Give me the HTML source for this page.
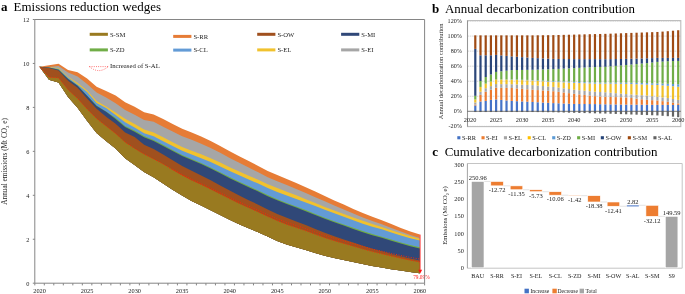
<!DOCTYPE html>
<html><head><meta charset="utf-8"><style>
html,body{margin:0;padding:0;background:#fff;width:685px;height:294px;overflow:hidden;font-family:"Liberation Serif",serif;}
svg{display:block;will-change:transform;}
</style></head><body>
<svg width="685" height="294" viewBox="0 0 685 294">
<rect width="685" height="294" fill="#fff"/>
<g font-family="Liberation Serif" fill="#000">
<text x="1" y="10.6" font-size="13" font-weight="bold">a</text>
<text x="13.6" y="10.6" font-size="13" textLength="147.4" lengthAdjust="spacingAndGlyphs">Emissions reduction wedges</text>
<text x="432" y="13.4" font-size="13" font-weight="bold">b</text>
<text x="445" y="13.4" font-size="13" textLength="190" lengthAdjust="spacingAndGlyphs">Annual decarbonization contribution</text>
<text x="432.3" y="155.9" font-size="13" font-weight="bold">c</text>
<text x="444.7" y="155.9" font-size="13" textLength="212.8" lengthAdjust="spacingAndGlyphs">Cumulative decarbonization contribution</text>
</g>
<path d="M39.55,66.7 L49.06,65.3 L58.57,63.8 L68.08,70 L77.58,72.2 L87.09,78.4 L96.6,86.8 L106.1,90.9 L115.61,95.4 L125.12,102.2 L134.63,106.8 L144.13,112.3 L153.64,114.5 L163.15,119.1 L172.66,123.9 L182.16,128.8 L191.67,132.4 L201.18,136.4 L210.69,140.9 L220.19,145.9 L229.7,151.2 L239.21,156.2 L248.71,161.1 L258.22,165.9 L267.73,171 L277.24,175 L286.74,179 L296.25,183 L305.76,187.3 L315.27,191.6 L324.77,196 L334.28,200.4 L343.79,204.6 L353.3,208.9 L362.8,213 L372.31,216.8 L381.82,220.2 L391.32,224.1 L400.83,227.9 L410.34,231.5 L419.85,234.6 L419.85,273.3 L410.34,272 L400.83,270.6 L391.32,269.2 L381.82,267.6 L372.31,266 L362.8,264 L353.3,261.9 L343.79,260.1 L334.28,258.1 L324.77,255.8 L315.27,253 L305.76,249.9 L296.25,247.3 L286.74,244.6 L277.24,240.9 L267.73,236.6 L258.22,232.2 L248.71,228.3 L239.21,224.2 L229.7,219.8 L220.19,215.1 L210.69,210.3 L201.18,205.6 L191.67,200.9 L182.16,195.5 L172.66,189.7 L163.15,183.5 L153.64,177.3 L144.13,171.9 L134.63,164.9 L125.12,158.3 L115.61,148.6 L106.1,140.9 L96.6,132.9 L87.09,120.8 L77.58,107.7 L68.08,97 L58.57,82.6 L49.06,79.7 L39.55,66.7Z" fill="#E67C36"/>
<path d="M39.55,66.7 L49.06,66.9 L58.57,65.91 L68.08,72.51 L77.58,76.5 L87.09,84.12 L96.6,92.56 L106.1,97.5 L115.61,103.17 L125.12,110.05 L134.63,114.82 L144.13,119.93 L153.64,121.78 L163.15,126.83 L172.66,131.55 L182.16,136.31 L191.67,139.87 L201.18,143.75 L210.69,148.08 L220.19,152.87 L229.7,157.92 L239.21,162.83 L248.71,167.62 L258.22,172.3 L267.73,177.3 L277.24,181.23 L286.74,185.1 L296.25,188.92 L305.76,193 L315.27,197.13 L324.77,201.32 L334.28,205.51 L343.79,209.48 L353.3,213.54 L362.8,217.44 L372.31,221.06 L381.82,224.28 L391.32,227.96 L400.83,231.53 L410.34,234.94 L419.85,237.89 L419.85,273.3 L410.34,272 L400.83,270.6 L391.32,269.2 L381.82,267.6 L372.31,266 L362.8,264 L353.3,261.9 L343.79,260.1 L334.28,258.1 L324.77,255.8 L315.27,253 L305.76,249.9 L296.25,247.3 L286.74,244.6 L277.24,240.9 L267.73,236.6 L258.22,232.2 L248.71,228.3 L239.21,224.2 L229.7,219.8 L220.19,215.1 L210.69,210.3 L201.18,205.6 L191.67,200.9 L182.16,195.5 L172.66,189.7 L163.15,183.5 L153.64,177.3 L144.13,171.9 L134.63,164.9 L125.12,158.3 L115.61,148.6 L106.1,140.9 L96.6,132.9 L87.09,120.8 L77.58,107.7 L68.08,97 L58.57,82.6 L49.06,79.7 L39.55,66.7Z" fill="#A6A6A6"/>
<path d="M39.55,66.7 L49.06,67.2 L58.57,67.9 L68.08,76.8 L77.58,82.99 L87.09,90.48 L96.6,101.09 L106.1,106.6 L115.61,112.42 L125.12,118.81 L134.63,123.94 L144.13,129.58 L153.64,132.52 L163.15,137.26 L172.66,142.13 L182.16,146.94 L191.67,150.69 L201.18,154.29 L210.69,158.25 L220.19,162.61 L229.7,167.18 L239.21,171.52 L248.71,175.72 L258.22,179.81 L267.73,184.25 L277.24,188.02 L286.74,191.66 L296.25,195.28 L305.76,199.13 L315.27,203.08 L324.77,207.06 L334.28,210.6 L343.79,213.95 L353.3,217.39 L362.8,220.75 L372.31,224.08 L381.82,227.03 L391.32,230.19 L400.83,233.28 L410.34,236.18 L419.85,238.66 L419.85,273.3 L410.34,272 L400.83,270.6 L391.32,269.2 L381.82,267.6 L372.31,266 L362.8,264 L353.3,261.9 L343.79,260.1 L334.28,258.1 L324.77,255.8 L315.27,253 L305.76,249.9 L296.25,247.3 L286.74,244.6 L277.24,240.9 L267.73,236.6 L258.22,232.2 L248.71,228.3 L239.21,224.2 L229.7,219.8 L220.19,215.1 L210.69,210.3 L201.18,205.6 L191.67,200.9 L182.16,195.5 L172.66,189.7 L163.15,183.5 L153.64,177.3 L144.13,171.9 L134.63,164.9 L125.12,158.3 L115.61,148.6 L106.1,140.9 L96.6,132.9 L87.09,120.8 L77.58,107.7 L68.08,97 L58.57,82.6 L49.06,79.7 L39.55,66.7Z" fill="#F1C22E"/>
<path d="M39.55,66.7 L49.06,67.4 L58.57,68.8 L68.08,77.51 L77.58,84.41 L87.09,91.97 L96.6,102.89 L106.1,108 L115.61,114.92 L125.12,122.34 L134.63,127.43 L144.13,133.16 L153.64,136.35 L163.15,141.19 L172.66,146.05 L182.16,150.83 L191.67,154.59 L201.18,158.18 L210.69,162.1 L220.19,166.4 L229.7,170.89 L239.21,175.26 L248.71,179.48 L258.22,183.59 L267.73,188.06 L277.24,191.9 L286.74,195.6 L296.25,198.88 L305.76,202.39 L315.27,206.03 L324.77,209.69 L334.28,213.32 L343.79,216.75 L353.3,220.24 L362.8,223.66 L372.31,226.69 L381.82,229.35 L391.32,232.42 L400.83,235.42 L410.34,238.14 L419.85,240.48 L419.85,273.3 L410.34,272 L400.83,270.6 L391.32,269.2 L381.82,267.6 L372.31,266 L362.8,264 L353.3,261.9 L343.79,260.1 L334.28,258.1 L324.77,255.8 L315.27,253 L305.76,249.9 L296.25,247.3 L286.74,244.6 L277.24,240.9 L267.73,236.6 L258.22,232.2 L248.71,228.3 L239.21,224.2 L229.7,219.8 L220.19,215.1 L210.69,210.3 L201.18,205.6 L191.67,200.9 L182.16,195.5 L172.66,189.7 L163.15,183.5 L153.64,177.3 L144.13,171.9 L134.63,164.9 L125.12,158.3 L115.61,148.6 L106.1,140.9 L96.6,132.9 L87.09,120.8 L77.58,107.7 L68.08,97 L58.57,82.6 L49.06,79.7 L39.55,66.7Z" fill="#639BD6"/>
<path d="M39.55,66.7 L49.06,67.53 L58.57,69.53 L68.08,78.78 L77.58,85.44 L87.09,95.57 L96.6,105.56 L106.1,111.4 L115.61,117.78 L125.12,126 L134.63,130.59 L144.13,136.07 L153.64,139.89 L163.15,144.86 L172.66,149.93 L182.16,154.9 L191.67,158.91 L201.18,163.02 L210.69,167.43 L220.19,172.19 L229.7,177.1 L239.21,181.69 L248.71,186.1 L258.22,190.39 L267.73,195.05 L277.24,199.13 L286.74,202.98 L296.25,206.47 L305.76,210.12 L315.27,213.94 L324.77,217.73 L334.28,221.24 L343.79,224.52 L353.3,227.79 L362.8,231.06 L372.31,234.09 L381.82,236.71 L391.32,239.62 L400.83,242.38 L410.34,244.99 L419.85,247.25 L419.85,273.3 L410.34,272 L400.83,270.6 L391.32,269.2 L381.82,267.6 L372.31,266 L362.8,264 L353.3,261.9 L343.79,260.1 L334.28,258.1 L324.77,255.8 L315.27,253 L305.76,249.9 L296.25,247.3 L286.74,244.6 L277.24,240.9 L267.73,236.6 L258.22,232.2 L248.71,228.3 L239.21,224.2 L229.7,219.8 L220.19,215.1 L210.69,210.3 L201.18,205.6 L191.67,200.9 L182.16,195.5 L172.66,189.7 L163.15,183.5 L153.64,177.3 L144.13,171.9 L134.63,164.9 L125.12,158.3 L115.61,148.6 L106.1,140.9 L96.6,132.9 L87.09,120.8 L77.58,107.7 L68.08,97 L58.57,82.6 L49.06,79.7 L39.55,66.7Z" fill="#70AD47"/>
<path d="M39.55,66.7 L49.06,67.6 L58.57,69.7 L68.08,78.99 L77.58,85.69 L87.09,95.87 L96.6,105.89 L106.1,111.7 L115.61,118.88 L125.12,127.1 L134.63,131.69 L144.13,137.17 L153.64,140.99 L163.15,145.96 L172.66,151.03 L182.16,156 L191.67,160.01 L201.18,164.12 L210.69,168.53 L220.19,173.29 L229.7,178.2 L239.21,182.79 L248.71,187.2 L258.22,191.49 L267.73,196.15 L277.24,200.23 L286.74,204.08 L296.25,207.57 L305.76,211.22 L315.27,215.04 L324.77,218.83 L334.28,222.34 L343.79,225.62 L353.3,228.89 L362.8,232.16 L372.31,235.19 L381.82,237.81 L391.32,240.72 L400.83,243.53 L410.34,246.2 L419.85,248.53 L419.85,273.3 L410.34,272 L400.83,270.6 L391.32,269.2 L381.82,267.6 L372.31,266 L362.8,264 L353.3,261.9 L343.79,260.1 L334.28,258.1 L324.77,255.8 L315.27,253 L305.76,249.9 L296.25,247.3 L286.74,244.6 L277.24,240.9 L267.73,236.6 L258.22,232.2 L248.71,228.3 L239.21,224.2 L229.7,219.8 L220.19,215.1 L210.69,210.3 L201.18,205.6 L191.67,200.9 L182.16,195.5 L172.66,189.7 L163.15,183.5 L153.64,177.3 L144.13,171.9 L134.63,164.9 L125.12,158.3 L115.61,148.6 L106.1,140.9 L96.6,132.9 L87.09,120.8 L77.58,107.7 L68.08,97 L58.57,82.6 L49.06,79.7 L39.55,66.7Z" fill="#304878"/>
<path d="M39.55,66.7 L49.06,67.91 L58.57,70.49 L68.08,80.8 L77.58,87.78 L87.09,98.58 L96.6,108.79 L106.1,116.8 L115.61,123.76 L125.12,132.61 L134.63,137.07 L144.13,144.66 L153.64,148.91 L163.15,154.39 L172.66,160.24 L182.16,165.93 L191.67,170.83 L201.18,175.45 L210.69,180.28 L220.19,185.4 L229.7,190.58 L239.21,195.47 L248.71,200.14 L258.22,204.65 L267.73,209.57 L277.24,213.88 L286.74,217.84 L296.25,221.45 L305.76,225.11 L315.27,229.05 L324.77,232.84 L334.28,236.3 L343.79,239.48 L353.3,242.54 L362.8,245.69 L372.31,248.73 L381.82,251.34 L391.32,253.93 L400.83,256.34 L410.34,258.55 L419.85,260.53 L419.85,273.3 L410.34,272 L400.83,270.6 L391.32,269.2 L381.82,267.6 L372.31,266 L362.8,264 L353.3,261.9 L343.79,260.1 L334.28,258.1 L324.77,255.8 L315.27,253 L305.76,249.9 L296.25,247.3 L286.74,244.6 L277.24,240.9 L267.73,236.6 L258.22,232.2 L248.71,228.3 L239.21,224.2 L229.7,219.8 L220.19,215.1 L210.69,210.3 L201.18,205.6 L191.67,200.9 L182.16,195.5 L172.66,189.7 L163.15,183.5 L153.64,177.3 L144.13,171.9 L134.63,164.9 L125.12,158.3 L115.61,148.6 L106.1,140.9 L96.6,132.9 L87.09,120.8 L77.58,107.7 L68.08,97 L58.57,82.6 L49.06,79.7 L39.55,66.7Z" fill="#A0501E"/>
<path d="M39.55,66.7 L49.06,77.3 L58.57,77.9 L68.08,89.79 L77.58,98.61 L87.09,109.01 L96.6,118.61 L106.1,126.1 L115.61,133.44 L125.12,142.2 L134.63,148.4 L144.13,154.14 L153.64,159.03 L163.15,164.12 L172.66,169.85 L182.16,175.33 L191.67,180.14 L201.18,184.58 L210.69,189.17 L220.19,193.98 L229.7,198.81 L239.21,203.39 L248.71,207.74 L258.22,211.91 L267.73,216.53 L277.24,220.7 L286.74,224.46 L296.25,227.62 L305.76,230.81 L315.27,234.33 L324.77,237.68 L334.28,240.73 L343.79,243.51 L353.3,246.16 L362.8,248.95 L372.31,251.61 L381.82,253.85 L391.32,256.12 L400.83,258.22 L410.34,260.25 L419.85,262.08 L419.85,273.3 L410.34,272 L400.83,270.6 L391.32,269.2 L381.82,267.6 L372.31,266 L362.8,264 L353.3,261.9 L343.79,260.1 L334.28,258.1 L324.77,255.8 L315.27,253 L305.76,249.9 L296.25,247.3 L286.74,244.6 L277.24,240.9 L267.73,236.6 L258.22,232.2 L248.71,228.3 L239.21,224.2 L229.7,219.8 L220.19,215.1 L210.69,210.3 L201.18,205.6 L191.67,200.9 L182.16,195.5 L172.66,189.7 L163.15,183.5 L153.64,177.3 L144.13,171.9 L134.63,164.9 L125.12,158.3 L115.61,148.6 L106.1,140.9 L96.6,132.9 L87.09,120.8 L77.58,107.7 L68.08,97 L58.57,82.6 L49.06,79.7 L39.55,66.7Z" fill="#997A20"/>
<path d="M39.55,66.7 L49.06,77.3 L58.57,77.9 L68.08,89.79 L77.58,98.61 L87.09,109.01 L96.6,118.61 L106.1,126.1 L115.61,133.44 L125.12,142.2 L134.63,148.4 L144.13,154.14 L153.64,159.03 L163.15,164.12 L172.66,169.85 L182.16,175.33 L191.67,180.14 L201.18,184.58 L210.69,189.17 L220.19,193.98 L229.7,198.81 L239.21,203.39 L248.71,207.74 L258.22,211.91 L267.73,216.53 L277.24,220.7 L286.74,224.46 L296.25,227.62 L305.76,230.81 L315.27,234.33 L324.77,237.68 L334.28,240.73 L343.79,243.51 L353.3,246.16 L362.8,248.95 L372.31,251.61 L381.82,253.85 L391.32,256.12 L400.83,258.22 L410.34,260.25 L419.85,262.08" fill="none" stroke="#F52A05" stroke-width="0.95" stroke-dasharray="1 1.5"/>
<path d="M172.66,169.09 L182.16,174.52 L191.67,179.25 L201.18,183.56 L210.69,188.02 L220.19,192.71 L229.7,197.44 L239.21,201.91 L248.71,206.16 L258.22,210.24 L267.73,214.76 L277.24,218.82 L286.74,222.49 L296.25,225.53 L305.76,228.62 L315.27,232.03 L324.77,235.29 L334.28,238.28 L343.79,241.01 L353.3,243.64 L362.8,246.4 L372.31,249.03 L381.82,251.25 L391.32,253.41 L400.83,255.44 L410.34,257.36 L419.85,259.06" fill="none" stroke="#F52A05" stroke-width="0.95" stroke-dasharray="1 1.5"/>
<line x1="420.15" y1="234.6" x2="420.15" y2="270" stroke="#FF2020" stroke-width="0.8"/>
<path d="M420.15,273.6 l-2,-3.9 l4,0 Z" fill="#FF1010"/>
<text x="421.4" y="278.8" font-family="Liberation Serif" font-size="5.3" fill="#FF2020" text-anchor="middle">79.09%</text>
<g stroke="#858585" stroke-width="1" fill="none">
<path d="M34.8,283.2 V19.5 H424.6 V283.2"/>
<path d="M34.8,283.2 H424.6"/>
<path d="M34.8,283.2v2.2M44.31,283.2v2.2M53.81,283.2v2.2M63.32,283.2v2.2M72.83,283.2v2.2M82.34,283.2v2.2M91.84,283.2v2.2M101.35,283.2v2.2M110.86,283.2v2.2M120.37,283.2v2.2M129.87,283.2v2.2M139.38,283.2v2.2M148.89,283.2v2.2M158.4,283.2v2.2M167.9,283.2v2.2M177.41,283.2v2.2M186.92,283.2v2.2M196.42,283.2v2.2M205.93,283.2v2.2M215.44,283.2v2.2M224.95,283.2v2.2M234.45,283.2v2.2M243.96,283.2v2.2M253.47,283.2v2.2M262.98,283.2v2.2M272.48,283.2v2.2M281.99,283.2v2.2M291.5,283.2v2.2M301,283.2v2.2M310.51,283.2v2.2M320.02,283.2v2.2M329.53,283.2v2.2M339.03,283.2v2.2M348.54,283.2v2.2M358.05,283.2v2.2M367.56,283.2v2.2M377.06,283.2v2.2M386.57,283.2v2.2M396.08,283.2v2.2M405.59,283.2v2.2M415.09,283.2v2.2M424.6,283.2v2.2"/>
<path d="M32.8,283.2h2M32.8,239.25h2M32.8,195.3h2M32.8,151.35h2M32.8,107.4h2M32.8,63.45h2M32.8,19.5h2"/>
</g>
<g font-family="Liberation Serif" font-size="6.3" fill="#222" text-anchor="end">
<text x="29.4" y="285.8">0</text>
<text x="29.4" y="241.85">2</text>
<text x="29.4" y="197.9">4</text>
<text x="29.4" y="153.95">6</text>
<text x="29.4" y="110">8</text>
<text x="29.4" y="66.05">10</text>
<text x="29.4" y="22.1">12</text>
</g>
<g font-family="Liberation Serif" font-size="6.3" fill="#222" text-anchor="middle">
<text x="39.55" y="293.4">2020</text>
<text x="87.09" y="293.4">2025</text>
<text x="134.63" y="293.4">2030</text>
<text x="182.16" y="293.4">2035</text>
<text x="229.7" y="293.4">2040</text>
<text x="277.24" y="293.4">2045</text>
<text x="324.77" y="293.4">2050</text>
<text x="372.31" y="293.4">2055</text>
<text x="419.85" y="293.4">2060</text>
</g>
<text transform="translate(7.4,161.4) rotate(-90)" font-family="Liberation Serif" font-size="7.3" fill="#222" text-anchor="middle">Annual emissions (Mt CO<tspan font-size="4.8" dy="1.6">2</tspan><tspan dy="-1.6"> e)</tspan></text>
<rect x="89.7" y="32.8" width="18.2" height="3" fill="#997A20"/>
<text x="109.9" y="36.6" font-family="Liberation Serif" font-size="6.6" fill="#222">S-SM</text>
<rect x="173.2" y="34.9" width="18.2" height="3" fill="#E67C36"/>
<text x="193.4" y="38.7" font-family="Liberation Serif" font-size="6.6" fill="#222">S-RR</text>
<rect x="257.2" y="32.8" width="18.2" height="3" fill="#A0501E"/>
<text x="277.4" y="36.6" font-family="Liberation Serif" font-size="6.6" fill="#222">S-OW</text>
<rect x="341.1" y="32.8" width="18.2" height="3" fill="#304878"/>
<text x="361.3" y="36.6" font-family="Liberation Serif" font-size="6.6" fill="#222">S-MI</text>
<rect x="89.7" y="48.4" width="18.2" height="3" fill="#70AD47"/>
<text x="109.9" y="52.2" font-family="Liberation Serif" font-size="6.6" fill="#222">S-ZD</text>
<rect x="173.2" y="48.6" width="18.2" height="3" fill="#639BD6"/>
<text x="193.4" y="52.4" font-family="Liberation Serif" font-size="6.6" fill="#222">S-CL</text>
<rect x="257.2" y="48.4" width="18.2" height="3" fill="#F1C22E"/>
<text x="277.4" y="52.2" font-family="Liberation Serif" font-size="6.6" fill="#222">S-EL</text>
<rect x="341.1" y="48.4" width="18.2" height="3" fill="#A6A6A6"/>
<text x="361.3" y="52.2" font-family="Liberation Serif" font-size="6.6" fill="#222">S-EI</text>
<path d="M89.4,66.6 H108.2 M89.4,66.6 Q98.8,74.6 108.2,66.6" fill="none" stroke="#FF1818" stroke-width="0.65" stroke-dasharray="0.9 1.3"/>
<text x="110" y="68.1" font-family="Liberation Serif" font-size="6.75" fill="#222">Increased of S-AL</text>
<g stroke="#c9c9c9" stroke-width="0.75" stroke-dasharray="1.6 0.7">
<line x1="467.5" y1="126.34" x2="680.8" y2="126.34"/>
<line x1="467.5" y1="96.26" x2="680.8" y2="96.26"/>
<line x1="467.5" y1="81.22" x2="680.8" y2="81.22"/>
<line x1="467.5" y1="66.18" x2="680.8" y2="66.18"/>
<line x1="467.5" y1="51.14" x2="680.8" y2="51.14"/>
<line x1="467.5" y1="36.1" x2="680.8" y2="36.1"/>
<line x1="467.5" y1="21.06" x2="680.8" y2="21.06"/>
</g>
<rect x="474.2" y="105.51" width="2.2" height="5.79" fill="#4673C8"/>
<rect x="474.2" y="104.53" width="2.2" height="0.98" fill="#EB7B30"/>
<rect x="474.2" y="102.5" width="2.2" height="2.03" fill="#A5A5A5"/>
<rect x="474.2" y="99.42" width="2.2" height="3.08" fill="#F0C028"/>
<rect x="474.2" y="95.81" width="2.2" height="3.61" fill="#70AD47"/>
<rect x="474.2" y="48.88" width="2.2" height="46.92" fill="#2B4679"/>
<rect x="474.2" y="35.35" width="2.2" height="13.54" fill="#A04B14"/>
<rect x="474.2" y="111.3" width="2.2" height="0.75" fill="#636363"/>
<rect x="479.41" y="101.52" width="2.2" height="9.78" fill="#4673C8"/>
<rect x="479.41" y="94.83" width="2.2" height="6.69" fill="#EB7B30"/>
<rect x="479.41" y="91.75" width="2.2" height="3.08" fill="#A5A5A5"/>
<rect x="479.41" y="86.94" width="2.2" height="4.81" fill="#F0C028"/>
<rect x="479.41" y="80.99" width="2.2" height="5.94" fill="#70AD47"/>
<rect x="479.41" y="55.28" width="2.2" height="25.72" fill="#2B4679"/>
<rect x="479.41" y="35.35" width="2.2" height="19.93" fill="#A04B14"/>
<rect x="479.41" y="111.3" width="2.2" height="0.75" fill="#636363"/>
<rect x="484.61" y="100.92" width="2.2" height="10.38" fill="#4673C8"/>
<rect x="484.61" y="91.75" width="2.2" height="9.17" fill="#EB7B30"/>
<rect x="484.61" y="88.21" width="2.2" height="3.53" fill="#A5A5A5"/>
<rect x="484.61" y="83.63" width="2.2" height="4.59" fill="#F0C028"/>
<rect x="484.61" y="77.01" width="2.2" height="6.62" fill="#70AD47"/>
<rect x="484.61" y="55.28" width="2.2" height="21.73" fill="#2B4679"/>
<rect x="484.61" y="35.35" width="2.2" height="19.93" fill="#A04B14"/>
<rect x="484.61" y="111.3" width="2.2" height="0.75" fill="#636363"/>
<rect x="489.81" y="99.87" width="2.2" height="11.43" fill="#4673C8"/>
<rect x="489.81" y="89.72" width="2.2" height="10.15" fill="#EB7B30"/>
<rect x="489.81" y="86.11" width="2.2" height="3.61" fill="#A5A5A5"/>
<rect x="489.81" y="81.52" width="2.2" height="4.59" fill="#F0C028"/>
<rect x="489.81" y="74.45" width="2.2" height="7.07" fill="#70AD47"/>
<rect x="489.81" y="55.28" width="2.2" height="19.18" fill="#2B4679"/>
<rect x="489.81" y="35.35" width="2.2" height="19.93" fill="#A04B14"/>
<rect x="489.81" y="111.3" width="2.2" height="0.75" fill="#636363"/>
<rect x="495.01" y="99.42" width="2.2" height="11.88" fill="#4673C8"/>
<rect x="495.01" y="87.69" width="2.2" height="11.73" fill="#EB7B30"/>
<rect x="495.01" y="84.08" width="2.2" height="3.61" fill="#A5A5A5"/>
<rect x="495.01" y="79.49" width="2.2" height="4.59" fill="#F0C028"/>
<rect x="495.01" y="71.9" width="2.2" height="7.6" fill="#70AD47"/>
<rect x="495.01" y="54.9" width="2.2" height="17" fill="#2B4679"/>
<rect x="495.01" y="35.35" width="2.2" height="19.55" fill="#A04B14"/>
<rect x="495.01" y="111.3" width="2.2" height="0.75" fill="#636363"/>
<rect x="500.22" y="99.92" width="2.2" height="11.38" fill="#4673C8"/>
<rect x="500.22" y="87.79" width="2.2" height="12.13" fill="#EB7B30"/>
<rect x="500.22" y="84.13" width="2.2" height="3.66" fill="#A5A5A5"/>
<rect x="500.22" y="79.57" width="2.2" height="4.56" fill="#F0C028"/>
<rect x="500.22" y="79.49" width="2.2" height="0.08" fill="#5E9BD6"/>
<rect x="500.22" y="71.29" width="2.2" height="8.2" fill="#70AD47"/>
<rect x="500.22" y="55.4" width="2.2" height="15.89" fill="#2B4679"/>
<rect x="500.22" y="35.35" width="2.2" height="20.05" fill="#A04B14"/>
<rect x="500.22" y="111.3" width="2.2" height="0.75" fill="#636363"/>
<rect x="505.42" y="100.42" width="2.2" height="10.88" fill="#4673C8"/>
<rect x="505.42" y="87.89" width="2.2" height="12.53" fill="#EB7B30"/>
<rect x="505.42" y="84.18" width="2.2" height="3.71" fill="#A5A5A5"/>
<rect x="505.42" y="79.64" width="2.2" height="4.54" fill="#F0C028"/>
<rect x="505.42" y="79.49" width="2.2" height="0.15" fill="#5E9BD6"/>
<rect x="505.42" y="70.69" width="2.2" height="8.8" fill="#70AD47"/>
<rect x="505.42" y="55.9" width="2.2" height="14.79" fill="#2B4679"/>
<rect x="505.42" y="35.35" width="2.2" height="20.55" fill="#A04B14"/>
<rect x="505.42" y="111.3" width="2.2" height="0.75" fill="#636363"/>
<rect x="510.62" y="100.92" width="2.2" height="10.38" fill="#4673C8"/>
<rect x="510.62" y="87.99" width="2.2" height="12.93" fill="#EB7B30"/>
<rect x="510.62" y="84.23" width="2.2" height="3.76" fill="#A5A5A5"/>
<rect x="510.62" y="79.72" width="2.2" height="4.51" fill="#F0C028"/>
<rect x="510.62" y="79.49" width="2.2" height="0.23" fill="#5E9BD6"/>
<rect x="510.62" y="70.09" width="2.2" height="9.4" fill="#70AD47"/>
<rect x="510.62" y="56.4" width="2.2" height="13.69" fill="#2B4679"/>
<rect x="510.62" y="35.35" width="2.2" height="21.06" fill="#A04B14"/>
<rect x="510.62" y="111.3" width="2.2" height="0.75" fill="#636363"/>
<rect x="515.82" y="101.19" width="2.2" height="10.11" fill="#4673C8"/>
<rect x="515.82" y="88.42" width="2.2" height="12.77" fill="#EB7B30"/>
<rect x="515.82" y="84.45" width="2.2" height="3.97" fill="#A5A5A5"/>
<rect x="515.82" y="79.9" width="2.2" height="4.55" fill="#F0C028"/>
<rect x="515.82" y="79.62" width="2.2" height="0.28" fill="#5E9BD6"/>
<rect x="515.82" y="70.02" width="2.2" height="9.61" fill="#70AD47"/>
<rect x="515.82" y="56.78" width="2.2" height="13.24" fill="#2B4679"/>
<rect x="515.82" y="35.35" width="2.2" height="21.43" fill="#A04B14"/>
<rect x="515.82" y="111.3" width="2.2" height="0.75" fill="#636363"/>
<rect x="521.03" y="101.45" width="2.2" height="9.85" fill="#4673C8"/>
<rect x="521.03" y="88.85" width="2.2" height="12.6" fill="#EB7B30"/>
<rect x="521.03" y="84.68" width="2.2" height="4.17" fill="#A5A5A5"/>
<rect x="521.03" y="80.09" width="2.2" height="4.59" fill="#F0C028"/>
<rect x="521.03" y="79.75" width="2.2" height="0.34" fill="#5E9BD6"/>
<rect x="521.03" y="69.94" width="2.2" height="9.81" fill="#70AD47"/>
<rect x="521.03" y="57.16" width="2.2" height="12.78" fill="#2B4679"/>
<rect x="521.03" y="35.35" width="2.2" height="21.81" fill="#A04B14"/>
<rect x="521.03" y="111.3" width="2.2" height="0.75" fill="#636363"/>
<rect x="526.23" y="101.71" width="2.2" height="9.59" fill="#4673C8"/>
<rect x="526.23" y="89.29" width="2.2" height="12.43" fill="#EB7B30"/>
<rect x="526.23" y="84.9" width="2.2" height="4.38" fill="#A5A5A5"/>
<rect x="526.23" y="80.28" width="2.2" height="4.62" fill="#F0C028"/>
<rect x="526.23" y="79.89" width="2.2" height="0.39" fill="#5E9BD6"/>
<rect x="526.23" y="69.86" width="2.2" height="10.02" fill="#70AD47"/>
<rect x="526.23" y="57.53" width="2.2" height="12.33" fill="#2B4679"/>
<rect x="526.23" y="35.35" width="2.2" height="22.18" fill="#A04B14"/>
<rect x="526.23" y="111.3" width="2.2" height="0.75" fill="#636363"/>
<rect x="531.43" y="101.98" width="2.2" height="9.32" fill="#4673C8"/>
<rect x="531.43" y="89.72" width="2.2" height="12.26" fill="#EB7B30"/>
<rect x="531.43" y="85.13" width="2.2" height="4.59" fill="#A5A5A5"/>
<rect x="531.43" y="80.47" width="2.2" height="4.66" fill="#F0C028"/>
<rect x="531.43" y="80.02" width="2.2" height="0.45" fill="#5E9BD6"/>
<rect x="531.43" y="69.79" width="2.2" height="10.23" fill="#70AD47"/>
<rect x="531.43" y="57.91" width="2.2" height="11.88" fill="#2B4679"/>
<rect x="531.43" y="35.35" width="2.2" height="22.56" fill="#A04B14"/>
<rect x="531.43" y="111.3" width="2.2" height="0.75" fill="#636363"/>
<rect x="536.63" y="102.26" width="2.2" height="9.04" fill="#4673C8"/>
<rect x="536.63" y="90.09" width="2.2" height="12.16" fill="#EB7B30"/>
<rect x="536.63" y="85.58" width="2.2" height="4.51" fill="#A5A5A5"/>
<rect x="536.63" y="80.84" width="2.2" height="4.74" fill="#F0C028"/>
<rect x="536.63" y="80.32" width="2.2" height="0.53" fill="#5E9BD6"/>
<rect x="536.63" y="69.62" width="2.2" height="10.7" fill="#70AD47"/>
<rect x="536.63" y="58.15" width="2.2" height="11.47" fill="#2B4679"/>
<rect x="536.63" y="35.29" width="2.2" height="22.86" fill="#A04B14"/>
<rect x="536.63" y="111.3" width="2.2" height="0.81" fill="#636363"/>
<rect x="541.84" y="102.54" width="2.2" height="8.76" fill="#4673C8"/>
<rect x="541.84" y="90.47" width="2.2" height="12.07" fill="#EB7B30"/>
<rect x="541.84" y="86.03" width="2.2" height="4.44" fill="#A5A5A5"/>
<rect x="541.84" y="81.22" width="2.2" height="4.81" fill="#F0C028"/>
<rect x="541.84" y="80.62" width="2.2" height="0.6" fill="#5E9BD6"/>
<rect x="541.84" y="69.45" width="2.2" height="11.17" fill="#70AD47"/>
<rect x="541.84" y="58.4" width="2.2" height="11.05" fill="#2B4679"/>
<rect x="541.84" y="35.24" width="2.2" height="23.16" fill="#A04B14"/>
<rect x="541.84" y="111.3" width="2.2" height="0.86" fill="#636363"/>
<rect x="547.04" y="102.82" width="2.2" height="8.48" fill="#4673C8"/>
<rect x="547.04" y="90.85" width="2.2" height="11.98" fill="#EB7B30"/>
<rect x="547.04" y="86.48" width="2.2" height="4.36" fill="#A5A5A5"/>
<rect x="547.04" y="81.6" width="2.2" height="4.89" fill="#F0C028"/>
<rect x="547.04" y="80.92" width="2.2" height="0.68" fill="#5E9BD6"/>
<rect x="547.04" y="69.28" width="2.2" height="11.64" fill="#70AD47"/>
<rect x="547.04" y="58.64" width="2.2" height="10.64" fill="#2B4679"/>
<rect x="547.04" y="35.18" width="2.2" height="23.46" fill="#A04B14"/>
<rect x="547.04" y="111.3" width="2.2" height="0.92" fill="#636363"/>
<rect x="552.24" y="103.1" width="2.2" height="8.2" fill="#4673C8"/>
<rect x="552.24" y="91.22" width="2.2" height="11.88" fill="#EB7B30"/>
<rect x="552.24" y="86.94" width="2.2" height="4.29" fill="#A5A5A5"/>
<rect x="552.24" y="81.97" width="2.2" height="4.96" fill="#F0C028"/>
<rect x="552.24" y="81.22" width="2.2" height="0.75" fill="#5E9BD6"/>
<rect x="552.24" y="69.11" width="2.2" height="12.11" fill="#70AD47"/>
<rect x="552.24" y="58.89" width="2.2" height="10.23" fill="#2B4679"/>
<rect x="552.24" y="35.12" width="2.2" height="23.76" fill="#A04B14"/>
<rect x="552.24" y="111.3" width="2.2" height="0.98" fill="#636363"/>
<rect x="557.44" y="103.31" width="2.2" height="7.99" fill="#4673C8"/>
<rect x="557.44" y="91.86" width="2.2" height="11.45" fill="#EB7B30"/>
<rect x="557.44" y="87.63" width="2.2" height="4.23" fill="#A5A5A5"/>
<rect x="557.44" y="82.18" width="2.2" height="5.45" fill="#F0C028"/>
<rect x="557.44" y="81.37" width="2.2" height="0.81" fill="#5E9BD6"/>
<rect x="557.44" y="68.87" width="2.2" height="12.5" fill="#70AD47"/>
<rect x="557.44" y="58.94" width="2.2" height="9.93" fill="#2B4679"/>
<rect x="557.44" y="34.99" width="2.2" height="23.95" fill="#A04B14"/>
<rect x="557.44" y="111.3" width="2.2" height="1.11" fill="#636363"/>
<rect x="562.65" y="103.52" width="2.2" height="7.78" fill="#4673C8"/>
<rect x="562.65" y="92.5" width="2.2" height="11.02" fill="#EB7B30"/>
<rect x="562.65" y="88.33" width="2.2" height="4.17" fill="#A5A5A5"/>
<rect x="562.65" y="82.39" width="2.2" height="5.94" fill="#F0C028"/>
<rect x="562.65" y="81.52" width="2.2" height="0.86" fill="#5E9BD6"/>
<rect x="562.65" y="68.62" width="2.2" height="12.9" fill="#70AD47"/>
<rect x="562.65" y="59" width="2.2" height="9.63" fill="#2B4679"/>
<rect x="562.65" y="34.86" width="2.2" height="24.14" fill="#A04B14"/>
<rect x="562.65" y="111.3" width="2.2" height="1.24" fill="#636363"/>
<rect x="567.85" y="103.72" width="2.2" height="7.58" fill="#4673C8"/>
<rect x="567.85" y="93.14" width="2.2" height="10.58" fill="#EB7B30"/>
<rect x="567.85" y="89.02" width="2.2" height="4.12" fill="#A5A5A5"/>
<rect x="567.85" y="82.59" width="2.2" height="6.43" fill="#F0C028"/>
<rect x="567.85" y="81.67" width="2.2" height="0.92" fill="#5E9BD6"/>
<rect x="567.85" y="68.38" width="2.2" height="13.29" fill="#70AD47"/>
<rect x="567.85" y="59.05" width="2.2" height="9.32" fill="#2B4679"/>
<rect x="567.85" y="34.73" width="2.2" height="24.33" fill="#A04B14"/>
<rect x="567.85" y="111.3" width="2.2" height="1.37" fill="#636363"/>
<rect x="573.05" y="103.93" width="2.2" height="7.37" fill="#4673C8"/>
<rect x="573.05" y="93.78" width="2.2" height="10.15" fill="#EB7B30"/>
<rect x="573.05" y="89.72" width="2.2" height="4.06" fill="#A5A5A5"/>
<rect x="573.05" y="82.8" width="2.2" height="6.92" fill="#F0C028"/>
<rect x="573.05" y="81.82" width="2.2" height="0.98" fill="#5E9BD6"/>
<rect x="573.05" y="68.14" width="2.2" height="13.69" fill="#70AD47"/>
<rect x="573.05" y="59.11" width="2.2" height="9.02" fill="#2B4679"/>
<rect x="573.05" y="34.6" width="2.2" height="24.52" fill="#A04B14"/>
<rect x="573.05" y="111.3" width="2.2" height="1.5" fill="#636363"/>
<rect x="578.25" y="103.97" width="2.2" height="7.33" fill="#4673C8"/>
<rect x="578.25" y="94.36" width="2.2" height="9.61" fill="#EB7B30"/>
<rect x="578.25" y="90.23" width="2.2" height="4.14" fill="#A5A5A5"/>
<rect x="578.25" y="83.01" width="2.2" height="7.22" fill="#F0C028"/>
<rect x="578.25" y="82.01" width="2.2" height="1" fill="#5E9BD6"/>
<rect x="578.25" y="67.87" width="2.2" height="14.14" fill="#70AD47"/>
<rect x="578.25" y="59.11" width="2.2" height="8.76" fill="#2B4679"/>
<rect x="578.25" y="34.46" width="2.2" height="24.65" fill="#A04B14"/>
<rect x="578.25" y="111.3" width="2.2" height="1.64" fill="#636363"/>
<rect x="583.45" y="104.01" width="2.2" height="7.29" fill="#4673C8"/>
<rect x="583.45" y="94.94" width="2.2" height="9.06" fill="#EB7B30"/>
<rect x="583.45" y="90.73" width="2.2" height="4.21" fill="#A5A5A5"/>
<rect x="583.45" y="83.21" width="2.2" height="7.52" fill="#F0C028"/>
<rect x="583.45" y="82.2" width="2.2" height="1.02" fill="#5E9BD6"/>
<rect x="583.45" y="67.61" width="2.2" height="14.59" fill="#70AD47"/>
<rect x="583.45" y="59.11" width="2.2" height="8.5" fill="#2B4679"/>
<rect x="583.45" y="34.33" width="2.2" height="24.78" fill="#A04B14"/>
<rect x="583.45" y="111.3" width="2.2" height="1.77" fill="#636363"/>
<rect x="588.66" y="104.04" width="2.2" height="7.26" fill="#4673C8"/>
<rect x="588.66" y="95.53" width="2.2" height="8.52" fill="#EB7B30"/>
<rect x="588.66" y="91.24" width="2.2" height="4.29" fill="#A5A5A5"/>
<rect x="588.66" y="83.42" width="2.2" height="7.82" fill="#F0C028"/>
<rect x="588.66" y="82.39" width="2.2" height="1.03" fill="#5E9BD6"/>
<rect x="588.66" y="67.35" width="2.2" height="15.04" fill="#70AD47"/>
<rect x="588.66" y="59.11" width="2.2" height="8.23" fill="#2B4679"/>
<rect x="588.66" y="34.2" width="2.2" height="24.91" fill="#A04B14"/>
<rect x="588.66" y="111.3" width="2.2" height="1.9" fill="#636363"/>
<rect x="593.86" y="104.08" width="2.2" height="7.22" fill="#4673C8"/>
<rect x="593.86" y="96.11" width="2.2" height="7.97" fill="#EB7B30"/>
<rect x="593.86" y="91.75" width="2.2" height="4.36" fill="#A5A5A5"/>
<rect x="593.86" y="83.63" width="2.2" height="8.12" fill="#F0C028"/>
<rect x="593.86" y="82.57" width="2.2" height="1.05" fill="#5E9BD6"/>
<rect x="593.86" y="67.08" width="2.2" height="15.49" fill="#70AD47"/>
<rect x="593.86" y="59.11" width="2.2" height="7.97" fill="#2B4679"/>
<rect x="593.86" y="34.07" width="2.2" height="25.04" fill="#A04B14"/>
<rect x="593.86" y="111.3" width="2.2" height="2.03" fill="#636363"/>
<rect x="599.06" y="104.19" width="2.2" height="7.11" fill="#4673C8"/>
<rect x="599.06" y="96.45" width="2.2" height="7.75" fill="#EB7B30"/>
<rect x="599.06" y="92.01" width="2.2" height="4.44" fill="#A5A5A5"/>
<rect x="599.06" y="83.63" width="2.2" height="8.38" fill="#F0C028"/>
<rect x="599.06" y="82.65" width="2.2" height="0.98" fill="#5E9BD6"/>
<rect x="599.06" y="66.93" width="2.2" height="15.72" fill="#70AD47"/>
<rect x="599.06" y="59.15" width="2.2" height="7.78" fill="#2B4679"/>
<rect x="599.06" y="33.96" width="2.2" height="25.19" fill="#A04B14"/>
<rect x="599.06" y="111.3" width="2.2" height="2.14" fill="#636363"/>
<rect x="604.26" y="104.31" width="2.2" height="6.99" fill="#4673C8"/>
<rect x="604.26" y="96.79" width="2.2" height="7.52" fill="#EB7B30"/>
<rect x="604.26" y="92.27" width="2.2" height="4.51" fill="#A5A5A5"/>
<rect x="604.26" y="83.63" width="2.2" height="8.65" fill="#F0C028"/>
<rect x="604.26" y="82.72" width="2.2" height="0.9" fill="#5E9BD6"/>
<rect x="604.26" y="66.78" width="2.2" height="15.94" fill="#70AD47"/>
<rect x="604.26" y="59.19" width="2.2" height="7.6" fill="#2B4679"/>
<rect x="604.26" y="33.84" width="2.2" height="25.34" fill="#A04B14"/>
<rect x="604.26" y="111.3" width="2.2" height="2.26" fill="#636363"/>
<rect x="609.47" y="104.38" width="2.2" height="6.92" fill="#4673C8"/>
<rect x="609.47" y="96.94" width="2.2" height="7.44" fill="#EB7B30"/>
<rect x="609.47" y="92.73" width="2.2" height="4.21" fill="#A5A5A5"/>
<rect x="609.47" y="83.68" width="2.2" height="9.04" fill="#F0C028"/>
<rect x="609.47" y="82.72" width="2.2" height="0.96" fill="#5E9BD6"/>
<rect x="609.47" y="66.33" width="2.2" height="16.39" fill="#70AD47"/>
<rect x="609.47" y="59.11" width="2.2" height="7.22" fill="#2B4679"/>
<rect x="609.47" y="33.66" width="2.2" height="25.46" fill="#A04B14"/>
<rect x="609.47" y="111.3" width="2.2" height="2.44" fill="#636363"/>
<rect x="614.67" y="104.46" width="2.2" height="6.84" fill="#4673C8"/>
<rect x="614.67" y="97.09" width="2.2" height="7.37" fill="#EB7B30"/>
<rect x="614.67" y="93.18" width="2.2" height="3.91" fill="#A5A5A5"/>
<rect x="614.67" y="83.74" width="2.2" height="9.44" fill="#F0C028"/>
<rect x="614.67" y="82.72" width="2.2" height="1.02" fill="#5E9BD6"/>
<rect x="614.67" y="65.88" width="2.2" height="16.84" fill="#70AD47"/>
<rect x="614.67" y="59.04" width="2.2" height="6.84" fill="#2B4679"/>
<rect x="614.67" y="33.47" width="2.2" height="25.57" fill="#A04B14"/>
<rect x="614.67" y="111.3" width="2.2" height="2.63" fill="#636363"/>
<rect x="619.87" y="104.53" width="2.2" height="6.77" fill="#4673C8"/>
<rect x="619.87" y="97.24" width="2.2" height="7.29" fill="#EB7B30"/>
<rect x="619.87" y="93.63" width="2.2" height="3.61" fill="#A5A5A5"/>
<rect x="619.87" y="83.8" width="2.2" height="9.83" fill="#F0C028"/>
<rect x="619.87" y="82.72" width="2.2" height="1.07" fill="#5E9BD6"/>
<rect x="619.87" y="65.43" width="2.2" height="17.3" fill="#70AD47"/>
<rect x="619.87" y="58.96" width="2.2" height="6.47" fill="#2B4679"/>
<rect x="619.87" y="33.28" width="2.2" height="25.68" fill="#A04B14"/>
<rect x="619.87" y="111.3" width="2.2" height="2.82" fill="#636363"/>
<rect x="625.07" y="104.61" width="2.2" height="6.69" fill="#4673C8"/>
<rect x="625.07" y="97.39" width="2.2" height="7.22" fill="#EB7B30"/>
<rect x="625.07" y="94.08" width="2.2" height="3.31" fill="#A5A5A5"/>
<rect x="625.07" y="83.85" width="2.2" height="10.23" fill="#F0C028"/>
<rect x="625.07" y="82.72" width="2.2" height="1.13" fill="#5E9BD6"/>
<rect x="625.07" y="64.98" width="2.2" height="17.75" fill="#70AD47"/>
<rect x="625.07" y="58.89" width="2.2" height="6.09" fill="#2B4679"/>
<rect x="625.07" y="33.09" width="2.2" height="25.79" fill="#A04B14"/>
<rect x="625.07" y="111.3" width="2.2" height="3.01" fill="#636363"/>
<rect x="630.28" y="104.64" width="2.2" height="6.66" fill="#4673C8"/>
<rect x="630.28" y="98.01" width="2.2" height="6.64" fill="#EB7B30"/>
<rect x="630.28" y="94.46" width="2.2" height="3.55" fill="#A5A5A5"/>
<rect x="630.28" y="84.04" width="2.2" height="10.42" fill="#F0C028"/>
<rect x="630.28" y="82.82" width="2.2" height="1.22" fill="#5E9BD6"/>
<rect x="630.28" y="64.51" width="2.2" height="18.31" fill="#70AD47"/>
<rect x="630.28" y="58.74" width="2.2" height="5.77" fill="#2B4679"/>
<rect x="630.28" y="32.9" width="2.2" height="25.83" fill="#A04B14"/>
<rect x="630.28" y="111.3" width="2.2" height="3.2" fill="#636363"/>
<rect x="635.48" y="104.68" width="2.2" height="6.62" fill="#4673C8"/>
<rect x="635.48" y="98.63" width="2.2" height="6.05" fill="#EB7B30"/>
<rect x="635.48" y="94.83" width="2.2" height="3.8" fill="#A5A5A5"/>
<rect x="635.48" y="84.23" width="2.2" height="10.6" fill="#F0C028"/>
<rect x="635.48" y="82.91" width="2.2" height="1.32" fill="#5E9BD6"/>
<rect x="635.48" y="64.04" width="2.2" height="18.88" fill="#70AD47"/>
<rect x="635.48" y="58.58" width="2.2" height="5.45" fill="#2B4679"/>
<rect x="635.48" y="32.72" width="2.2" height="25.87" fill="#A04B14"/>
<rect x="635.48" y="111.3" width="2.2" height="3.38" fill="#636363"/>
<rect x="640.68" y="104.72" width="2.2" height="6.58" fill="#4673C8"/>
<rect x="640.68" y="99.25" width="2.2" height="5.47" fill="#EB7B30"/>
<rect x="640.68" y="95.21" width="2.2" height="4.04" fill="#A5A5A5"/>
<rect x="640.68" y="84.42" width="2.2" height="10.79" fill="#F0C028"/>
<rect x="640.68" y="83.01" width="2.2" height="1.41" fill="#5E9BD6"/>
<rect x="640.68" y="63.57" width="2.2" height="19.44" fill="#70AD47"/>
<rect x="640.68" y="58.43" width="2.2" height="5.13" fill="#2B4679"/>
<rect x="640.68" y="32.53" width="2.2" height="25.91" fill="#A04B14"/>
<rect x="640.68" y="111.3" width="2.2" height="3.57" fill="#636363"/>
<rect x="645.88" y="104.76" width="2.2" height="6.54" fill="#4673C8"/>
<rect x="645.88" y="99.87" width="2.2" height="4.89" fill="#EB7B30"/>
<rect x="645.88" y="95.58" width="2.2" height="4.29" fill="#A5A5A5"/>
<rect x="645.88" y="84.6" width="2.2" height="10.98" fill="#F0C028"/>
<rect x="645.88" y="83.1" width="2.2" height="1.5" fill="#5E9BD6"/>
<rect x="645.88" y="63.1" width="2.2" height="20" fill="#70AD47"/>
<rect x="645.88" y="58.28" width="2.2" height="4.81" fill="#2B4679"/>
<rect x="645.88" y="32.34" width="2.2" height="25.94" fill="#A04B14"/>
<rect x="645.88" y="111.3" width="2.2" height="3.76" fill="#636363"/>
<rect x="651.09" y="104.8" width="2.2" height="6.5" fill="#4673C8"/>
<rect x="651.09" y="100.17" width="2.2" height="4.62" fill="#EB7B30"/>
<rect x="651.09" y="96.18" width="2.2" height="3.99" fill="#A5A5A5"/>
<rect x="651.09" y="84.79" width="2.2" height="11.39" fill="#F0C028"/>
<rect x="651.09" y="83.29" width="2.2" height="1.5" fill="#5E9BD6"/>
<rect x="651.09" y="62.5" width="2.2" height="20.79" fill="#70AD47"/>
<rect x="651.09" y="58.1" width="2.2" height="4.4" fill="#2B4679"/>
<rect x="651.09" y="32.15" width="2.2" height="25.94" fill="#A04B14"/>
<rect x="651.09" y="111.3" width="2.2" height="3.95" fill="#636363"/>
<rect x="656.29" y="104.83" width="2.2" height="6.47" fill="#4673C8"/>
<rect x="656.29" y="100.47" width="2.2" height="4.36" fill="#EB7B30"/>
<rect x="656.29" y="96.79" width="2.2" height="3.68" fill="#A5A5A5"/>
<rect x="656.29" y="84.98" width="2.2" height="11.81" fill="#F0C028"/>
<rect x="656.29" y="83.48" width="2.2" height="1.5" fill="#5E9BD6"/>
<rect x="656.29" y="61.89" width="2.2" height="21.58" fill="#70AD47"/>
<rect x="656.29" y="57.91" width="2.2" height="3.99" fill="#2B4679"/>
<rect x="656.29" y="31.96" width="2.2" height="25.94" fill="#A04B14"/>
<rect x="656.29" y="111.3" width="2.2" height="4.14" fill="#636363"/>
<rect x="661.49" y="104.87" width="2.2" height="6.43" fill="#4673C8"/>
<rect x="661.49" y="101.15" width="2.2" height="3.72" fill="#EB7B30"/>
<rect x="661.49" y="97.43" width="2.2" height="3.72" fill="#A5A5A5"/>
<rect x="661.49" y="85.39" width="2.2" height="12.03" fill="#F0C028"/>
<rect x="661.49" y="83.63" width="2.2" height="1.77" fill="#5E9BD6"/>
<rect x="661.49" y="61.56" width="2.2" height="22.07" fill="#70AD47"/>
<rect x="661.49" y="57.91" width="2.2" height="3.65" fill="#2B4679"/>
<rect x="661.49" y="31.59" width="2.2" height="26.32" fill="#A04B14"/>
<rect x="661.49" y="111.3" width="2.2" height="4.51" fill="#636363"/>
<rect x="666.69" y="104.91" width="2.2" height="6.39" fill="#4673C8"/>
<rect x="666.69" y="101.82" width="2.2" height="3.08" fill="#EB7B30"/>
<rect x="666.69" y="98.06" width="2.2" height="3.76" fill="#A5A5A5"/>
<rect x="666.69" y="85.81" width="2.2" height="12.26" fill="#F0C028"/>
<rect x="666.69" y="83.78" width="2.2" height="2.03" fill="#5E9BD6"/>
<rect x="666.69" y="61.22" width="2.2" height="22.56" fill="#70AD47"/>
<rect x="666.69" y="57.91" width="2.2" height="3.31" fill="#2B4679"/>
<rect x="666.69" y="31.21" width="2.2" height="26.7" fill="#A04B14"/>
<rect x="666.69" y="111.3" width="2.2" height="4.89" fill="#636363"/>
<rect x="671.9" y="104.91" width="2.2" height="6.39" fill="#4673C8"/>
<rect x="671.9" y="102.61" width="2.2" height="2.29" fill="#EB7B30"/>
<rect x="671.9" y="98.97" width="2.2" height="3.65" fill="#A5A5A5"/>
<rect x="671.9" y="86.26" width="2.2" height="12.71" fill="#F0C028"/>
<rect x="671.9" y="84" width="2.2" height="2.26" fill="#5E9BD6"/>
<rect x="671.9" y="61.07" width="2.2" height="22.94" fill="#70AD47"/>
<rect x="671.9" y="57.91" width="2.2" height="3.16" fill="#2B4679"/>
<rect x="671.9" y="30.72" width="2.2" height="27.18" fill="#A04B14"/>
<rect x="671.9" y="111.3" width="2.2" height="5.38" fill="#636363"/>
<rect x="677.1" y="104.91" width="2.2" height="6.39" fill="#4673C8"/>
<rect x="677.1" y="103.4" width="2.2" height="1.5" fill="#EB7B30"/>
<rect x="677.1" y="99.87" width="2.2" height="3.53" fill="#A5A5A5"/>
<rect x="677.1" y="86.71" width="2.2" height="13.16" fill="#F0C028"/>
<rect x="677.1" y="84.23" width="2.2" height="2.48" fill="#5E9BD6"/>
<rect x="677.1" y="60.92" width="2.2" height="23.31" fill="#70AD47"/>
<rect x="677.1" y="57.91" width="2.2" height="3.01" fill="#2B4679"/>
<rect x="677.1" y="30.23" width="2.2" height="27.67" fill="#A04B14"/>
<rect x="677.1" y="111.3" width="2.2" height="5.87" fill="#636363"/>
<g fill="none">
<rect x="467.5" y="20.6" width="213.3" height="106" stroke="#bcbcbc" stroke-width="1.1"/>
<line x1="467.5" y1="20.6" x2="467.5" y2="126.6" stroke="#8c8c8c" stroke-width="0.8"/>
<line x1="467.5" y1="111.3" x2="680.8" y2="111.3" stroke="#404040" stroke-width="0.7"/>
</g>
<g font-family="Liberation Serif" font-size="6.1" fill="#222" text-anchor="end">
<text x="461.8" y="128.44">-20%</text>
<text x="461.8" y="113.4">0%</text>
<text x="461.8" y="98.36">20%</text>
<text x="461.8" y="83.32">40%</text>
<text x="461.8" y="68.28">60%</text>
<text x="461.8" y="53.24">80%</text>
<text x="461.8" y="38.2">100%</text>
<text x="461.8" y="23.16">120%</text>
</g>
<g font-family="Liberation Serif" font-size="6.3" fill="#222" text-anchor="middle">
<text x="470.1" y="121.5">2020</text>
<text x="496.11" y="121.5">2025</text>
<text x="522.13" y="121.5">2030</text>
<text x="548.14" y="121.5">2035</text>
<text x="574.15" y="121.5">2040</text>
<text x="600.16" y="121.5">2045</text>
<text x="626.17" y="121.5">2050</text>
<text x="652.19" y="121.5">2055</text>
<text x="678.2" y="121.5">2060</text>
</g>
<text transform="translate(443.3,71.3) rotate(-90)" font-family="Liberation Serif" font-size="6.5" fill="#222" text-anchor="middle">Annual decarbonization contribution</text>
<rect x="457.3" y="136.2" width="3.1" height="3.1" fill="#4472C4"/>
<text x="461.9" y="140" font-family="Liberation Serif" font-size="6.35" fill="#222">S-RR</text>
<rect x="481.5" y="136.2" width="3.1" height="3.1" fill="#ED7D31"/>
<text x="486.1" y="140" font-family="Liberation Serif" font-size="6.35" fill="#222">S-EI</text>
<rect x="503.9" y="136.2" width="3.1" height="3.1" fill="#A5A5A5"/>
<text x="508.5" y="140" font-family="Liberation Serif" font-size="6.35" fill="#222">S-EL</text>
<rect x="527.7" y="136.2" width="3.1" height="3.1" fill="#FFC000"/>
<text x="532.3" y="140" font-family="Liberation Serif" font-size="6.35" fill="#222">S-CL</text>
<rect x="552.2" y="136.2" width="3.1" height="3.1" fill="#5B9BD5"/>
<text x="556.8" y="140" font-family="Liberation Serif" font-size="6.35" fill="#222">S-ZD</text>
<rect x="577.1" y="136.2" width="3.1" height="3.1" fill="#70AD47"/>
<text x="581.7" y="140" font-family="Liberation Serif" font-size="6.35" fill="#222">S-MI</text>
<rect x="600.8" y="136.2" width="3.1" height="3.1" fill="#264478"/>
<text x="605.4" y="140" font-family="Liberation Serif" font-size="6.35" fill="#222">S-OW</text>
<rect x="627.8" y="136.2" width="3.1" height="3.1" fill="#9E480E"/>
<text x="632.4" y="140" font-family="Liberation Serif" font-size="6.35" fill="#222">S-SM</text>
<rect x="653.4" y="136.2" width="3.1" height="3.1" fill="#636363"/>
<text x="658" y="140" font-family="Liberation Serif" font-size="6.35" fill="#222">S-AL</text>
<path d="M467.4,163.5 H682.2 V268.2 H467.4" fill="none" stroke="#c4c4c4" stroke-width="1"/>
<line x1="467.4" y1="163.5" x2="467.4" y2="268.2" stroke="#8c8c8c" stroke-width="0.8"/>
<path d="M484,181.47H490.79M503.39,185.85H510.18M522.78,189.75H529.57M542.17,191.72H548.96M561.56,195.18H568.35M580.95,195.67H587.74M600.34,201.99H607.13M619.73,206.26H626.52M639.12,205.29H645.91M658.51,216.34H665.3" stroke="#d0d0d0" stroke-width="0.6" fill="none"/>
<rect x="471.4" y="181.47" width="12.6" height="86.33" fill="#A5A5A5" stroke="#fff" stroke-width="0.6"/>
<text x="477.7" y="180.07" font-family="Liberation Serif" font-size="6.5" fill="#222" text-anchor="middle">250.96</text>
<text x="477.7" y="278.3" font-family="Liberation Serif" font-size="6.1" fill="#222" text-anchor="middle">BAU</text>
<rect x="490.79" y="181.47" width="12.6" height="4.38" fill="#ED7D31" stroke="#fff" stroke-width="0.6"/>
<text x="497.09" y="192.15" font-family="Liberation Serif" font-size="6.5" fill="#222" text-anchor="middle">-12.72</text>
<text x="497.09" y="278.3" font-family="Liberation Serif" font-size="6.1" fill="#222" text-anchor="middle">S-RR</text>
<rect x="510.18" y="185.85" width="12.6" height="3.9" fill="#ED7D31" stroke="#fff" stroke-width="0.6"/>
<text x="516.48" y="196.05" font-family="Liberation Serif" font-size="6.5" fill="#222" text-anchor="middle">-11.35</text>
<text x="516.48" y="278.3" font-family="Liberation Serif" font-size="6.1" fill="#222" text-anchor="middle">S-EI</text>
<rect x="529.57" y="189.75" width="12.6" height="1.97" fill="#ED7D31" stroke="#fff" stroke-width="0.6"/>
<text x="535.87" y="198.02" font-family="Liberation Serif" font-size="6.5" fill="#222" text-anchor="middle">-5.73</text>
<text x="535.87" y="278.3" font-family="Liberation Serif" font-size="6.1" fill="#222" text-anchor="middle">S-EL</text>
<rect x="548.96" y="191.72" width="12.6" height="3.46" fill="#ED7D31" stroke="#fff" stroke-width="0.6"/>
<text x="555.26" y="201.48" font-family="Liberation Serif" font-size="6.5" fill="#222" text-anchor="middle">-10.06</text>
<text x="555.26" y="278.3" font-family="Liberation Serif" font-size="6.1" fill="#222" text-anchor="middle">S-CL</text>
<rect x="568.35" y="195.18" width="12.6" height="0.49" fill="#ED7D31" stroke="#fff" stroke-width="0.6"/>
<text x="574.65" y="201.97" font-family="Liberation Serif" font-size="6.5" fill="#222" text-anchor="middle">-1.42</text>
<text x="574.65" y="278.3" font-family="Liberation Serif" font-size="6.1" fill="#222" text-anchor="middle">S-ZD</text>
<rect x="587.74" y="195.67" width="12.6" height="6.32" fill="#ED7D31" stroke="#fff" stroke-width="0.6"/>
<text x="594.04" y="208.29" font-family="Liberation Serif" font-size="6.5" fill="#222" text-anchor="middle">-18.38</text>
<text x="594.04" y="278.3" font-family="Liberation Serif" font-size="6.1" fill="#222" text-anchor="middle">S-MI</text>
<rect x="607.13" y="201.99" width="12.6" height="4.27" fill="#ED7D31" stroke="#fff" stroke-width="0.6"/>
<text x="613.43" y="212.56" font-family="Liberation Serif" font-size="6.5" fill="#222" text-anchor="middle">-12.41</text>
<text x="613.43" y="278.3" font-family="Liberation Serif" font-size="6.1" fill="#222" text-anchor="middle">S-OW</text>
<rect x="626.82" y="205.39" width="12" height="1" fill="#4472C4"/>
<text x="632.82" y="203.89" font-family="Liberation Serif" font-size="6.5" fill="#222" text-anchor="middle">2.82</text>
<text x="632.82" y="278.3" font-family="Liberation Serif" font-size="6.1" fill="#222" text-anchor="middle">S-AL</text>
<rect x="645.91" y="205.29" width="12.6" height="11.05" fill="#ED7D31" stroke="#fff" stroke-width="0.6"/>
<text x="652.21" y="222.64" font-family="Liberation Serif" font-size="6.5" fill="#222" text-anchor="middle">-32.12</text>
<text x="652.21" y="278.3" font-family="Liberation Serif" font-size="6.1" fill="#222" text-anchor="middle">S-SM</text>
<rect x="665.3" y="216.34" width="12.6" height="51.46" fill="#A5A5A5" stroke="#fff" stroke-width="0.6"/>
<text x="671.6" y="214.94" font-family="Liberation Serif" font-size="6.5" fill="#222" text-anchor="middle">149.59</text>
<text x="671.6" y="278.3" font-family="Liberation Serif" font-size="6.1" fill="#222" text-anchor="middle">S9</text>
<g font-family="Liberation Serif" font-size="6.3" fill="#222" text-anchor="end">
<text x="463.8" y="270">0</text>
<text x="463.8" y="252.8">50</text>
<text x="463.8" y="235.6">100</text>
<text x="463.8" y="218.4">150</text>
<text x="463.8" y="201.2">200</text>
<text x="463.8" y="184">250</text>
<text x="463.8" y="166.8">300</text>
</g>
<text transform="translate(447,215.5) rotate(-90)" font-family="Liberation Serif" font-size="6.6" fill="#222" text-anchor="middle">Emissions (Mt CO<tspan font-size="4.2" dy="1.5">2</tspan><tspan dy="-1.5"> e)</tspan></text>
<rect x="524.5" y="288.7" width="4.4" height="4.6" fill="#4472C4"/>
<text x="530.5" y="293.3" font-family="Liberation Serif" font-size="5.6" fill="#222">Increase</text>
<rect x="552.4" y="288.7" width="4.4" height="4.6" fill="#ED7D31"/>
<text x="557.5" y="293.3" font-family="Liberation Serif" font-size="5.6" fill="#222">Decrease</text>
<rect x="579.6" y="288.7" width="4.4" height="4.6" fill="#A5A5A5"/>
<text x="585.5" y="293.3" font-family="Liberation Serif" font-size="5.6" fill="#222">Total</text>
</svg>
</body></html>
